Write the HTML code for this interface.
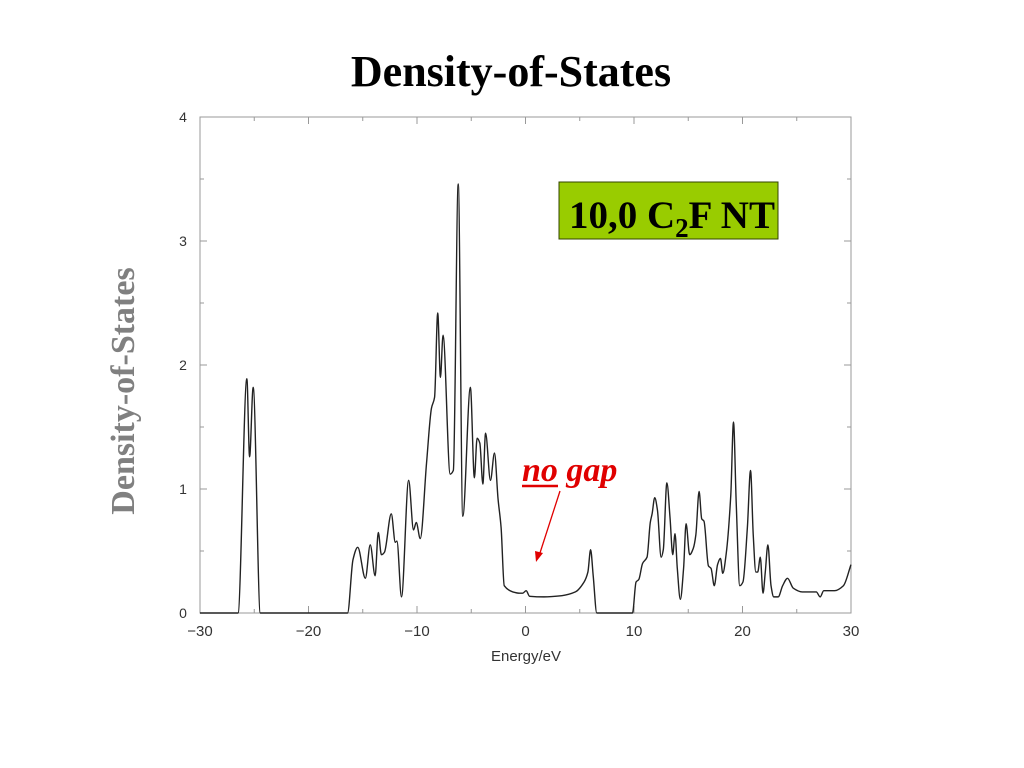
<!DOCTYPE html>
<html><head><meta charset="utf-8"><style>
html,body{margin:0;padding:0;background:#fff;width:1024px;height:768px;overflow:hidden}
svg{display:block}
</style></head><body>
<svg width="1024" height="768" id="chart">
<text x="511" y="86" text-anchor="middle" font-family="Liberation Serif, serif" font-weight="bold" font-size="44">Density-of-States</text>
<text transform="translate(134,391) rotate(-90)" text-anchor="middle" font-family="Liberation Serif, serif" font-weight="bold" font-size="34" fill="#808080">Density-of-States</text>
<text x="526" y="661" text-anchor="middle" font-family="Liberation Sans, sans-serif" font-size="15" fill="#333">Energy/eV</text>
<rect x="200" y="117" width="651" height="496" fill="none" stroke="#999" stroke-width="1"/>
<g id="ticks"></g>
<path id="dos" fill="none" stroke="#222" stroke-width="1.4"/>
<rect x="559" y="182" width="219" height="57" fill="#99cc00" stroke="#334400" stroke-width="1"/>
<text x="569" y="228" font-family="Liberation Serif, serif" font-weight="bold" font-size="39">10,0 C<tspan font-size="27" dy="9">2</tspan><tspan dy="-9">F NT</tspan></text>
<text x="522" y="481" font-family="Liberation Serif, serif" font-weight="bold" font-style="italic" font-size="34" fill="#e00000">no gap</text>
<line x1="522" y1="486" x2="558" y2="486" stroke="#e00000" stroke-width="2.5"/>
<line x1="560" y1="491" x2="539" y2="556" stroke="#e00000" stroke-width="1.3"/>
<polygon points="536,562 535,551 543,553" fill="#e00000"/>
</svg>
<script>
const energies=[-30,-26.5,-25.68,-25.43,-25.1,-24.44,-16.4,-15.9,-15.46,-14.76,-14.31,-13.86,-13.57,-13.28,-13.0,-12.37,-12.0,-11.85,-11.43,-10.77,-10.32,-10.07,-9.70,-9.12,-8.67,-8.38,-8.09,-7.84,-7.60,-6.94,-6.65,-6.20,-5.78,-5.08,-4.71,-4.46,-4.21,-3.93,-3.68,-3.23,-2.86,-2.53,-2.25,-1.96,-1.17,-0.55,-0.26,0.06,0.38,1.7,3.35,4.6,5.4,5.75,6.0,6.24,6.57,9.86,10.19,10.44,10.79,11.2,11.5,11.67,11.91,12.16,12.5,12.7,13.03,13.32,13.57,13.78,13.99,14.27,14.57,14.8,15.13,15.46,15.7,16.0,16.24,16.45,16.86,17.1,17.4,17.7,17.97,18.18,18.5,18.92,19.17,19.42,19.75,20.04,20.45,20.74,20.99,21.23,21.4,21.64,21.89,22.1,22.34,22.63,22.88,23.29,23.7,24.15,24.68,25.5,26.8,27.16,27.49,28.48,29.3,30];
const dos=[0,0,1.89,1.26,1.82,0,0,0.43,0.53,0.28,0.55,0.30,0.65,0.47,0.49,0.80,0.57,0.58,0.13,1.07,0.67,0.73,0.60,1.21,1.65,1.74,2.42,1.90,2.24,1.12,1.15,3.46,0.78,1.82,1.09,1.41,1.37,1.04,1.45,1.07,1.29,0.92,0.69,0.22,0.17,0.16,0.16,0.18,0.135,0.13,0.14,0.17,0.25,0.33,0.51,0.30,0,0,0.25,0.27,0.40,0.45,0.73,0.80,0.93,0.83,0.45,0.51,1.05,0.77,0.47,0.64,0.36,0.11,0.36,0.72,0.47,0.52,0.63,0.98,0.76,0.74,0.38,0.36,0.22,0.39,0.44,0.32,0.48,0.95,1.54,0.89,0.22,0.25,0.69,1.15,0.63,0.33,0.33,0.45,0.16,0.33,0.55,0.22,0.13,0.13,0.22,0.28,0.20,0.17,0.17,0.13,0.18,0.18,0.22,0.39];
const xTicks=[-30,-20,-10,0,10,20,30];
const yTicks=[0,1,2,3,4];
const X0=200,X1=851,Y0=613,Y1=117;
const sx=v=>X0+(v+30)/60*(X1-X0);
const sy=v=>Y0-v/4*(Y0-Y1);
const NS='http://www.w3.org/2000/svg';
const g=document.getElementById('ticks');
function mk(tag,attrs){const e=document.createElementNS(NS,tag);for(const k in attrs)e.setAttribute(k,attrs[k]);g.appendChild(e);return e;}
for(let v=-30;v<=30;v+=5){
 const len=(v%10===0)?7:4;
 const t1=mk('line',{x1:sx(v),x2:sx(v),y1:Y0,y2:Y0-len,stroke:'#999'});
 
 
 const t2=mk('line',{x1:sx(v),x2:sx(v),y1:Y1,y2:Y1+len,stroke:'#999'});
 
 
}
for(let v=0;v<=4;v+=0.5){
 const len=(v%1===0)?7:4;
 const t1=mk('line',{x1:X0,x2:X0+len,y1:sy(v),y2:sy(v),stroke:'#999'});
 
 
 const t2=mk('line',{x1:X1,x2:X1-len,y1:sy(v),y2:sy(v),stroke:'#999'});
 
 
}
xTicks.forEach(v=>{
 const t=mk('text',{x:sx(v),y:636,'text-anchor':'middle','font-family':'Liberation Sans, sans-serif','font-size':15,fill:'#333'});
 t.textContent=(v<0?'\u2212'+(-v):String(v));
 
 
});
yTicks.forEach(v=>{
 const t=mk('text',{x:183,y:sy(v)+5,'text-anchor':'middle','font-family':'Liberation Sans, sans-serif','font-size':14,fill:'#333'});
 t.textContent=String(v);
 
 
});
// monotone cubic interpolation (no overshoot)
const xs=energies.map(sx), ys=dos.map(sy), n=xs.length;
const dl=[], m=[];
for(let i=0;i<n-1;i++) dl.push((ys[i+1]-ys[i])/(xs[i+1]-xs[i]));
m[0]=dl[0]; m[n-1]=dl[n-2];
for(let i=1;i<n-1;i++){ m[i]=(dl[i-1]*dl[i]<=0)?0:2/(1/dl[i-1]+1/dl[i]); }
let d='M'+xs[0]+','+ys[0];
for(let i=0;i<n-1;i++){
 const h=(xs[i+1]-xs[i])/3;
 d+=' C'+(xs[i]+h)+','+(ys[i]+m[i]*h)+' '+(xs[i+1]-h)+','+(ys[i+1]-m[i+1]*h)+' '+xs[i+1]+','+ys[i+1];
}
document.getElementById('dos').setAttribute('d',d);
</script>
</body></html>
